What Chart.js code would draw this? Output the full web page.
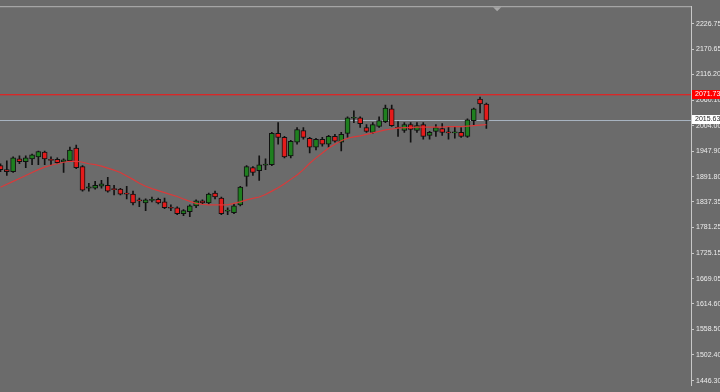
<!DOCTYPE html>
<html>
<head>
<meta charset="utf-8">
<script src="https://cdn.jsdelivr.net/npm/chart.js@4/dist/chart.umd.min.js"></script>
<style>
  html, body { margin: 0; padding: 0; background: #6b6b6b; }
  canvas { display: block; }
</style>
</head>
<body>
<canvas id="chart" width="720" height="392"></canvas>
<script>
// OHLC candles (one per bar, left to right)
const opens = [1916.5,1907.9,1903.6,1931.4,1925.0,1931.4,1935.7,1946.4,1930.4,1930.4,
  1925.0,1927.2,1955.0,1914.3,1867.2,1867.2,1871.5,1873.7,1866.2,1865.1,
  1856.5,1854.4,1841.6,1835.1,1840.5,1842.6,1837.3,1825.5,1824.4,1811.6,
  1815.9,1828.7,1839.4,1835.1,1856.5,1845.8,1816.9,1813.7,1830.9,1892.9,
  1912.2,1905.8,1917.5,1918.6,1987.1,1978.5,1937.9,1967.8,1993.5,1976.4,
  1957.1,1974.2,1963.5,1980.7,1967.8,1987.1,2020.2,2021.3,1999.9,1989.2,
  2002.1,2012.8,2040.6,2001.0,1993.5,2006.3,1993.5,2006.3,1982.8,1991.4,
  1997.8,1990.3,1988.1,1989.2,1980.7,2014.9,2062.0,2051.3];
const closes = [1907.9,1903.6,1933.6,1925.0,1933.6,1940.0,1947.5,1931.4,1928.2,1922.9,
  1929.3,1950.7,1912.2,1863.0,1870.4,1873.7,1876.9,1860.8,1864.0,1854.4,
  1854.4,1835.1,1839.4,1841.6,1842.6,1835.1,1824.4,1823.4,1811.6,1818.0,
  1828.7,1839.4,1835.1,1854.4,1848.0,1811.6,1819.1,1828.7,1869.4,1914.3,
  1901.5,1918.6,1919.7,1987.1,1978.5,1935.7,1970.0,1995.6,1978.5,1957.1,
  1974.2,1963.5,1980.7,1970.0,1984.9,2021.3,2022.4,2008.5,1991.4,2006.3,
  2014.9,2042.7,2004.2,1998.8,2006.3,1995.6,2004.2,1980.7,1989.2,1999.9,
  1989.2,1988.1,1990.3,1980.7,2017.0,2040.6,2051.3,2015.6];
const highs = [1920.7,1927.2,1935.7,1937.9,1937.9,1942.1,1948.6,1948.6,1935.7,1933.6,
  1931.4,1957.1,1961.4,1916.5,1877.9,1882.2,1884.4,1890.8,1873.7,1867.2,
  1871.5,1860.8,1845.8,1843.7,1848.0,1845.8,1845.8,1830.9,1826.6,1820.2,
  1830.9,1841.6,1841.6,1856.5,1860.8,1848.0,1824.4,1833.0,1871.5,1916.5,
  1914.3,1937.9,1931.4,1989.2,2010.6,1980.7,1972.1,1999.9,1999.9,1978.5,
  1976.4,1978.5,1982.8,1984.9,1989.2,2023.5,2036.3,2023.5,2006.3,2010.6,
  2023.5,2049.1,2049.1,2012.8,2010.6,2010.6,2010.6,2010.6,1991.4,2006.3,
  2008.5,2002.1,2002.1,1999.9,2019.2,2042.7,2066.3,2053.4];
const lows = [1903.6,1895.1,1901.5,1920.7,1912.2,1918.6,1918.6,1918.6,1918.6,1920.7,
  1901.5,1925.0,1910.0,1860.8,1860.8,1865.1,1867.2,1858.7,1852.3,1852.3,
  1843.7,1830.9,1826.6,1818.0,1837.3,1833.0,1822.3,1818.0,1809.5,1807.3,
  1805.2,1824.4,1833.0,1833.0,1843.7,1809.5,1809.5,1811.6,1828.7,1871.5,
  1895.1,1884.4,1907.9,1916.5,1963.5,1933.6,1933.6,1963.5,1974.2,1944.3,
  1950.7,1959.3,1957.1,1967.8,1948.6,1978.5,2010.6,1999.9,1989.2,1987.1,
  1999.9,2010.6,2002.1,1980.7,1989.2,1967.8,1989.2,1974.2,1974.2,1980.7,
  1982.8,1974.2,1976.4,1978.5,1978.5,2006.3,2032.0,1997.8];

// moving average line (red)
const maValues = [1869.4,1875.8,1882.2,1888.6,1895.1,1901.5,1907.9,1913.2,1917.5,1920.7,
  1924.0,1926.1,1926.1,1924.0,1920.7,1918.6,1915.4,1911.1,1906.8,1901.5,
  1894.0,1886.5,1877.9,1871.5,1866.2,1861.9,1857.6,1853.3,1849.0,1843.7,
  1838.3,1834.1,1831.9,1830.9,1830.9,1830.9,1830.9,1834.1,1837.3,1841.6,
  1844.8,1848.0,1853.3,1860.8,1868.3,1876.9,1886.5,1896.1,1907.9,1921.8,
  1933.6,1944.3,1955.0,1963.5,1971.0,1976.4,1979.6,1981.7,1984.9,1988.1,
  1991.4,1994.6,1996.7,1998.8,1999.9,1999.9,2001.0,2001.0,2001.0,2001.0,
  2001.0,2002.1,2002.1,2002.1,2003.1,2004.2,2005.3,2006.3];

// price axis ticks
const priceTicks = [2226.75,2170.65,2116.20,2060.10,2004.00,1947.90,1891.80,1837.35,
  1781.25,1725.15,1669.05,1614.60,1558.50,1502.40,1446.30];

// horizontal levels
const resistLevel = 2071.73;
const bidLevel = 2015.63;

const BG = '#6b6b6b';
const UP = '#1f7f1f';
const DOWN = '#e41b1b';
const EDGE = '#111111';

const overlay = {
  id: 'overlay',
  beforeDraw(chart) {
    const c = chart.ctx;
    c.save();
    c.fillStyle = BG;
    c.fillRect(0, 0, chart.width, chart.height);
    c.restore();
  },
  beforeDatasetsDraw(chart) {
    const c = chart.ctx, a = chart.chartArea, y = chart.scales.y;
    c.save();
    // frame at top
    c.fillStyle = '#b4b4b4';
    c.fillRect(a.left, a.top, a.right - a.left, 1);
    // red level
    let py = Math.round(y.getPixelForValue(resistLevel));
    c.fillStyle = '#d82828';
    c.fillRect(a.left, py - 1, a.right - a.left, 1);
    c.fillStyle = 'rgba(216,40,40,0.35)';
    c.fillRect(a.left, py, a.right - a.left, 1);
    // bid line
    py = Math.round(y.getPixelForValue(bidLevel));
    c.fillStyle = '#a7b3c0';
    c.fillRect(a.left, py, a.right - a.left, 1);
    // shift marker at top
    const mx = chart.scales.x.getPixelForValue(78.7);
    c.fillStyle = '#a8a8a8';
    c.beginPath(); c.moveTo(mx - 4, a.top + 1); c.lineTo(mx + 4, a.top + 1); c.lineTo(mx, a.top + 5); c.closePath(); c.fill();
    c.restore();
  },
  afterDraw(chart) {
    const c = chart.ctx, a = chart.chartArea, y = chart.scales.y;
    c.save();
    c.font = '7px "Liberation Sans", Arial, sans-serif';
    c.textBaseline = 'middle';
    const box = (val, fill, txt) => {
      const py = Math.round(y.getPixelForValue(val)) - 1;
      c.fillStyle = fill;
      c.fillRect(a.right + 1, py - 4, 40, 9);
      c.fillStyle = txt;
      c.fillText(val.toFixed(2), a.right + 4, py + 0.5);
    };
    box(resistLevel, '#ff0000', '#ffffff');
    box(bidLevel, '#ffffff', '#222222');
    c.restore();
  }
};

new Chart(document.getElementById('chart'), {
  type: 'bar',
  data: {
    datasets: [
      {
        type: 'line',
        data: maValues.map((v, i) => ({x: i, y: v})),
        borderColor: 'rgba(222,56,56,0.95)',
        borderWidth: 1.2,
        pointRadius: 0,
        tension: 0,
        order: 0
      },
      {
        data: opens.map((o, i) => ({x: i, y: [o, closes[i]]})),
        backgroundColor: opens.map((o, i) => closes[i] >= o ? UP : DOWN),
        borderColor: EDGE,
        borderWidth: 1,
        borderSkipped: false,
        barThickness: 5,
        grouped: false,
        order: 1
      },
      {
        data: lows.map((l, i) => ({x: i, y: [l, highs[i]]})),
        backgroundColor: EDGE,
        barThickness: 1,
        grouped: false,
        order: 2
      }
    ]
  },
  options: {
    responsive: false,
    animation: false,
    layout: {padding: {left: 0, right: 0, top: 4, bottom: 0}},
    plugins: {legend: {display: false}, tooltip: {enabled: false}},
    scales: {
      x: {type: 'linear', min: -0.08, max: 109.43, offset: false, bounds: 'ticks', display: false,
          afterDataLimits(s) { s.min = -0.08; s.max = 109.43; }},
      y: {
        position: 'right',
        min: 1435.0,
        max: 2265.3,
        afterFit(s) { s.width = 29; },
        afterBuildTicks(s) { s.ticks = priceTicks.map(v => ({value: v})); },
        border: {display: true, color: '#c8c8c8', width: 1},
        grid: {drawOnChartArea: false, drawTicks: true, tickLength: 3, color: '#c8c8c8'},
        ticks: {
          color: '#ececec',
          padding: 2,
          autoSkip: false,
          font: {family: '"Liberation Sans", Arial, sans-serif', size: 7},
          callback: v => Number(v).toFixed(2)
        }
      }
    }
  },
  plugins: [overlay]
});
</script>
</body>
</html>
